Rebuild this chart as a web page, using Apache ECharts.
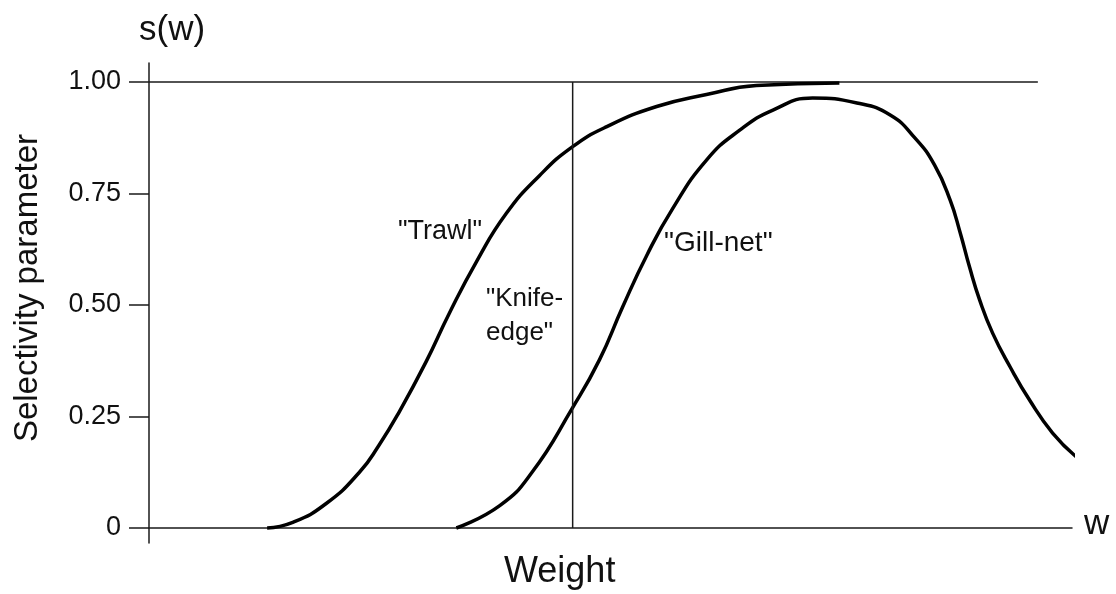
<!DOCTYPE html>
<html>
<head>
<meta charset="utf-8">
<title>Selectivity</title>
<script src="https://cdn.jsdelivr.net/npm/echarts@6/dist/echarts.min.js"></script>
<style>
  html, body { margin: 0; padding: 0; background: #fff; }
  #main { width: 1116px; height: 594px; }
</style>
</head>
<body>
<div id="main"></div>
<script>
// weight (0-100) and selectivity s(w)
var trawlW = [12.8, 15.5, 19.2, 22.8, 24.9, 27.1, 30.0, 32.5, 35.5, 38.7, 42.3, 45.9, 49.6, 55.0, 60.4, 65.8, 74.8];
var trawlS = [0.00, 0.012, 0.055, 0.125, 0.185, 0.260, 0.372, 0.480, 0.598, 0.705, 0.790, 0.855, 0.900, 0.945, 0.972, 0.992, 0.998];

var gillW = [33.3, 38.0, 41.5, 45.9, 48.8, 51.3, 53.9, 56.7, 60.4, 64.0, 67.6, 71.9, 76.7, 80.3, 83.0, 85.1, 86.8, 87.9, 88.9, 90.0, 91.4, 93.3, 95.4, 97.9, 100.5];
var gillS = [0.00, 0.050, 0.125, 0.270, 0.377, 0.495, 0.610, 0.715, 0.825, 0.892, 0.937, 0.964, 0.953, 0.926, 0.874, 0.814, 0.735, 0.661, 0.585, 0.511, 0.437, 0.361, 0.287, 0.213, 0.159];

var knifeW = 45.9;      // knife-edge weight
var refLineEnd = 96.3;  // where the s = 1 line stops
var yTicks = [0, 0.25, 0.5, 0.75, 1];

function pairs(xs, ys) {
  var out = [];
  for (var i = 0; i < xs.length; i++) out.push([xs[i], ys[i]]);
  return out;
}

var font = 'Liberation Sans, Arial, Helvetica, sans-serif';
var ink = '#1a1a1a';

var chart = echarts.init(document.getElementById('main'));
chart.setOption({
  backgroundColor: '#fff',
  animation: false,
  grid: { left: 149, right: 44, top: 63, bottom: 51 },
  xAxis: {
    type: 'value',
    min: 0,
    max: 100,
    axisLine: { onZero: true, lineStyle: { color: ink, width: 1.5 } },
    axisTick: { show: false },
    axisLabel: { show: false },
    splitLine: { show: false }
  },
  yAxis: {
    type: 'value',
    min: -0.0336,
    max: 1.0426,
    axisLine: { show: true, lineStyle: { color: ink, width: 1.5 } },
    axisTick: { show: true, customValues: yTicks, length: 20, lineStyle: { color: ink, width: 1.5 } },
    axisLabel: {
      customValues: yTicks,
      margin: 28,
      color: '#111',
      fontSize: 27,
      fontFamily: font,
      formatter: function (v) { return v === 0 ? '0' : v.toFixed(2); }
    },
    splitLine: { show: false }
  },
  series: [
    {
      name: 'Trawl',
      type: 'line',
      smooth: true,
      showSymbol: false,
      clip: false,
      lineStyle: { color: '#000', width: 3.5 },
      data: pairs(trawlW, trawlS)
    },
    {
      name: 'Gill-net',
      type: 'line',
      smooth: true,
      showSymbol: false,
      clip: false,
      lineStyle: { color: '#000', width: 3.5 },
      data: pairs(gillW, gillS)
    },
    {
      name: 'Knife-edge',
      type: 'line',
      showSymbol: false,
      lineStyle: { color: ink, width: 1.5 },
      data: [[knifeW, 0], [knifeW, 1]]
    },
    {
      name: 'max',
      type: 'line',
      showSymbol: false,
      lineStyle: { color: ink, width: 1.5 },
      data: [[0, 1], [refLineEnd, 1]],
      z: 1
    }
  ],
  graphic: [
    { type: 'text', left: 139, top: 13, style: { text: 's(w)', font: '35px ' + font, fill: '#111' } },
    { type: 'text', left: 1084, top: 507, style: { text: 'w', font: '35px ' + font, fill: '#111' } },
    { type: 'text', left: 504, top: 554, style: { text: 'Weight', font: '36px ' + font, fill: '#111' } },
    {
      type: 'text', left: 11, top: 134, rotation: Math.PI / 2,
      style: { text: 'Selectivity parameter', font: '33px ' + font, fill: '#111' }
    },
    { type: 'text', left: 398, top: 218, style: { text: '"Trawl"', font: '27px ' + font, fill: '#111' } },
    { type: 'text', left: 486, top: 282, style: { text: '"Knife-\nedge"', font: '26px ' + font, fill: '#111', lineHeight: 34 } },
    { type: 'text', left: 664, top: 229, style: { text: '"Gill-net"', font: '28px ' + font, fill: '#111' } }
  ]
});
</script>
</body>
</html>
